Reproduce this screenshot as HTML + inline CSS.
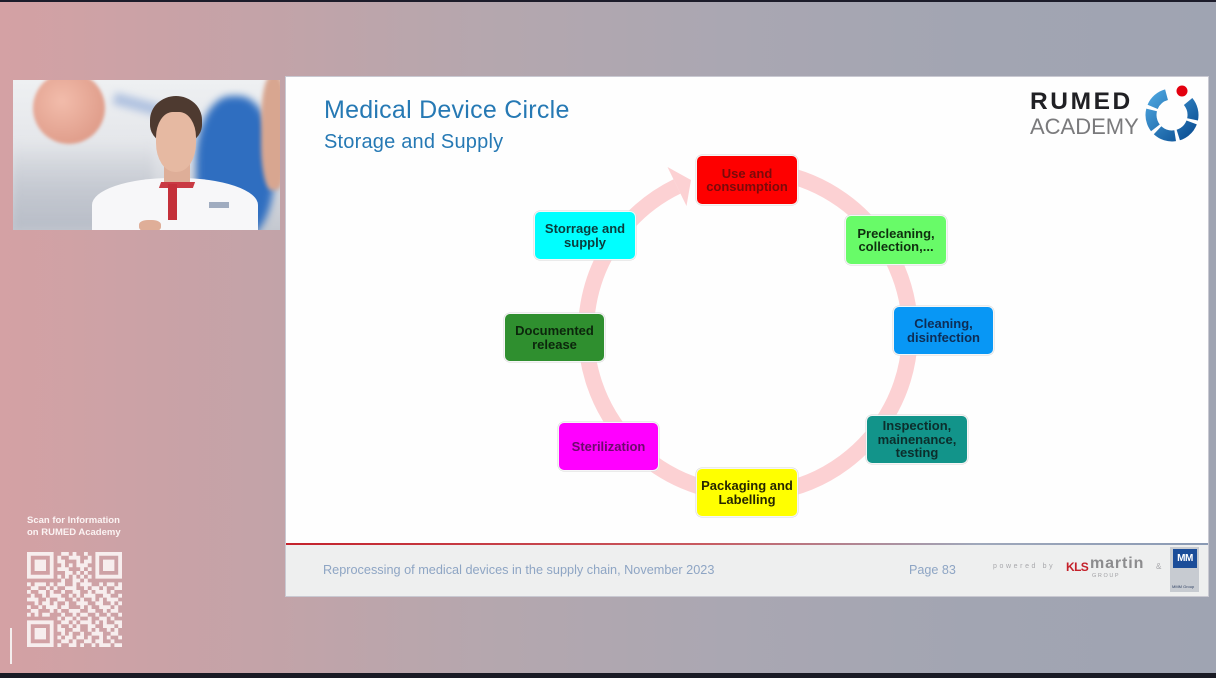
<!DOCTYPE html>
<html>
<head>
<meta charset="utf-8">
<style>
  html,body{margin:0;padding:0;}
  body{width:1216px;height:678px;position:relative;overflow:hidden;
    background:linear-gradient(90deg,#d4a1a4 0%,#c3a3a8 22%,#b5a7ae 40%,#aaa7b2 60%,#a2a5b2 80%,#9fa4b2 100%);
    font-family:"Liberation Sans",Arial,sans-serif;}
  .abs{position:absolute;}
  .topbar{left:0;top:0;width:1216px;height:2px;background:#1c1c2a;}
  .botbar{left:0;top:673px;width:1216px;height:5px;background:#191a24;}
  .cam{left:13px;top:80px;width:267px;height:150px;overflow:hidden;
    background:linear-gradient(180deg,#eef0f2 0%,#e4e6ea 45%,#c4c8d0 100%);}
  .cam div{position:absolute;}
  .slide{left:286px;top:77px;width:922px;height:519px;background:#fefefe;box-shadow:0 0 0 1px #c9c9d2;}
  .footer{left:286px;top:545px;width:922px;height:51px;background:#eeefef;}
  .fline{left:286px;top:543px;width:922px;height:2px;background:linear-gradient(90deg,#c4222c 0%,#c85a60 45%,#9fa8bb 75%,#8a9ab4 100%);}
  .node{position:absolute;box-sizing:border-box;border:1.5px solid #f6f6f6;border-radius:6px;
    display:flex;align-items:center;justify-content:center;text-align:center;
    font-weight:bold;font-size:13px;line-height:13.5px;box-shadow:0 0 0 0.5px #d8d8d8;}
</style>
</head>
<body>
<div class="abs topbar"></div>

<!-- webcam -->
<div class="abs cam">
  <div style="left:0;top:60px;width:140px;height:90px;background:linear-gradient(180deg,rgba(200,205,212,0) 0%,#b9bec8 100%);filter:blur(4px);"></div>
  <div style="left:20px;top:-8px;width:72px;height:72px;border-radius:50%;background:radial-gradient(circle at 40% 40%,#f2bcab,#d9927f);filter:blur(1.5px);"></div>
  <div style="left:100px;top:20px;width:60px;height:12px;background:#8aa6d6;filter:blur(4px);opacity:.6;transform:rotate(15deg);"></div>
  <div style="left:183px;top:16px;width:78px;height:145px;border-radius:45%;background:#2f6ec0;filter:blur(4px);"></div>
  <div style="left:248px;top:-5px;width:26px;height:115px;border-radius:40%;background:#d8a690;filter:blur(2px);"></div>
  <div style="left:79px;top:98px;width:166px;height:60px;background:#f7f7f9;border-radius:48% 48% 0 0 / 45% 45% 0 0;"></div>
  <div style="left:151px;top:84px;width:26px;height:22px;background:#deae98;"></div>
  <div style="left:137px;top:16px;width:52px;height:48px;background:#4e3a30;border-radius:50% 50% 40% 40%;"></div>
  <div style="left:143px;top:32px;width:40px;height:60px;background:#e6b9a2;border-radius:42% 42% 48% 48%;"></div>
  <div style="left:147px;top:102px;width:34px;height:6px;background:#c93a44;transform:skewX(-20deg);"></div>
  <div style="left:155px;top:104px;width:9px;height:36px;background:#c4303a;"></div>
  <div style="left:126px;top:140px;width:22px;height:12px;background:#dfae98;border-radius:40%;"></div>
  <div style="left:196px;top:122px;width:20px;height:6px;background:#7a8ca8;opacity:.7;"></div>
</div>

<!-- slide -->
<div class="abs slide"></div>
<div class="abs footer"></div>
<div class="abs fline"></div>

<div class="abs" style="left:324px;top:97.5px;font-size:25px;line-height:25px;letter-spacing:0.25px;color:#2679b4;white-space:nowrap;">Medical Device Circle</div>
<div class="abs" style="left:324px;top:131.8px;font-size:20px;line-height:20px;letter-spacing:0.2px;color:#2679b4;white-space:nowrap;">Storage and Supply</div>

<!-- RUMED logo -->
<div class="abs" style="left:1030px;top:90px;font-size:24.5px;line-height:24px;font-weight:bold;letter-spacing:2.6px;color:#202024;white-space:nowrap;">RUMED</div>
<div class="abs" style="left:1030px;top:116px;font-size:22px;line-height:21px;color:#7a7a7c;white-space:nowrap;">ACADEMY</div>
<svg class="abs" style="left:0;top:0;" width="1216" height="678" viewBox="0 0 1216 678">
  <defs>
    <linearGradient id="lg" x1="0" y1="0" x2="1" y2="1">
      <stop offset="0" stop-color="#4aa2dc"/>
      <stop offset="1" stop-color="#0b4f94"/>
    </linearGradient>
  </defs>
  <path d="M1188.1 101.5 A21 21 0 1 1 1168.4 94.3" fill="none" stroke="url(#lg)" stroke-width="11" stroke-dasharray="19 3.2"/>
  <circle cx="1182" cy="91" r="5.5" fill="#e3000f"/>

  <!-- ring -->
  <path d="M776.1 172.5 A162 162 0 1 1 677.0 186.4" fill="none" stroke="#fcd1d3" stroke-width="16"/>
  <polygon points="667.5,167 686.5,206 691,180" fill="#fcd1d3"/>
</svg>

<!-- nodes -->
<div class="node" style="left:696px;top:155px;width:102px;height:50px;background:#fe0000;color:#7a0a0a;">Use and<br>consumption</div>
<div class="node" style="left:845px;top:215px;width:102px;height:50px;background:#68fb68;color:#0f2f0f;">Precleaning,<br>collection,...</div>
<div class="node" style="left:893px;top:306px;width:101px;height:49px;background:#0897f5;color:#0e2d55;">Cleaning,<br>disinfection</div>
<div class="node" style="left:866px;top:415px;width:102px;height:49px;background:#12948a;color:#0c2e2c;">Inspection,<br>mainenance,<br>testing</div>
<div class="node" style="left:696px;top:468px;width:102px;height:49px;background:#ffff00;color:#262600;">Packaging and<br>Labelling</div>
<div class="node" style="left:558px;top:422px;width:101px;height:49px;background:#ff00ff;color:#6d0a6d;">Sterilization</div>
<div class="node" style="left:504px;top:313px;width:101px;height:49px;background:#2f8f2f;color:#0c260c;">Documented<br>release</div>
<div class="node" style="left:534px;top:211px;width:102px;height:49px;background:#00ffff;color:#0a3c3c;">Storrage and<br>supply</div>

<!-- footer -->
<div class="abs" style="left:323px;top:563px;font-size:12.7px;line-height:14px;color:#8ea5c4;white-space:nowrap;">Reprocessing of medical devices in the supply chain, November 2023</div>
<div class="abs" style="left:909px;top:563px;font-size:12.6px;line-height:14px;color:#8ea5c4;white-space:nowrap;">Page 83</div>
<div class="abs" style="left:993px;top:562px;font-size:7px;line-height:9px;letter-spacing:2.6px;color:#a8a8ac;white-space:nowrap;">powered by</div>
<div class="abs" style="left:1066px;top:560px;font-size:12px;line-height:14px;font-weight:bold;letter-spacing:-0.6px;color:#c4202a;white-space:nowrap;">KLS</div>
<div class="abs" style="left:1090px;top:556px;font-size:16px;line-height:16px;font-weight:bold;letter-spacing:0.9px;color:#8c8c8e;white-space:nowrap;">martin</div>
<div class="abs" style="left:1092px;top:573px;font-size:5.5px;line-height:6px;letter-spacing:1.6px;color:#a0a0a4;white-space:nowrap;">GROUP</div>
<div class="abs" style="left:1156px;top:562px;font-size:8px;line-height:9px;color:#a8a8ac;">&amp;</div>
<div class="abs" style="left:1170px;top:547px;width:29px;height:45px;background:#c7cbd1;"></div>
<div class="abs" style="left:1173px;top:549px;width:24px;height:19px;background:#1b4d99;color:#fff;font-size:10px;font-weight:bold;line-height:19px;text-align:center;letter-spacing:-0.5px;">MM</div>
<div class="abs" style="left:1172px;top:584px;font-size:4px;line-height:5px;color:#334466;white-space:nowrap;">MMM Group</div>

<!-- left column: QR -->
<div class="abs" style="left:27px;top:515px;font-size:9.5px;line-height:11.5px;font-weight:bold;color:#fbf3f3;white-space:nowrap;">Scan for Information<br>on RUMED Academy</div>
<svg class="abs" style="left:27px;top:552px;" width="95" height="95" viewBox="0 0 25 25">
  <g fill="#f7eeee">
    <path fill-rule="evenodd" d="M0 0h7v7h-7z M1 1v5h5v-5z M2 2h3v3h-3z"/>
    <path fill-rule="evenodd" d="M18 0h7v7h-7z M19 1v5h5v-5z M20 2h3v3h-3z"/>
    <path fill-rule="evenodd" d="M0 18h7v7h-7z M1 19v5h5v-5z M2 20h3v3h-3z"/>
    <path d="M9 0h2v1h-2z M12 0h1v1h-1z M15 0h1v1h-1z
M8 1h1v1h-1z M11 1h3v1h-3z M16 1h1v1h-1z
M8 2h2v1h-2z M13 2h1v1h-1z M15 2h2v1h-2z
M9 3h1v1h-1z M11 3h1v1h-1z M13 3h3v1h-3z
M8 4h3v1h-3z M14 4h1v1h-1z M16 4h1v1h-1z
M10 5h2v1h-2z M13 5h1v1h-1z M15 5h1v1h-1z
M8 6h1v1h-1z M10 6h1v1h-1z M12 6h1v1h-1z M14 6h1v1h-1z M16 6h1v1h-1z
M9 7h1v1h-1z M12 7h2v1h-2z M15 7h1v1h-1z
M0 8h1v1h-1z M2 8h3v1h-3z M6 8h1v1h-1z M8 8h2v1h-2z M12 8h1v1h-1z M14 8h3v1h-3z M19 8h1v1h-1z M21 8h2v1h-2z M24 8h1v1h-1z
M1 9h2v1h-2z M5 9h1v1h-1z M7 9h1v1h-1z M10 9h3v1h-3z M15 9h1v1h-1z M17 9h2v1h-2z M20 9h1v1h-1z M23 9h2v1h-2z
M0 10h1v1h-1z M3 10h2v1h-2z M6 10h1v1h-1z M9 10h1v1h-1z M12 10h2v1h-2z M16 10h1v1h-1z M18 10h3v1h-3z M22 10h1v1h-1z
M1 11h1v1h-1z M4 11h1v1h-1z M6 11h3v1h-3z M11 11h1v1h-1z M13 11h1v1h-1z M15 11h3v1h-3z M20 11h2v1h-2z M24 11h1v1h-1z
M0 12h3v1h-3z M5 12h1v1h-1z M8 12h2v1h-2z M12 12h1v1h-1z M14 12h1v1h-1z M17 12h1v1h-1z M19 12h1v1h-1z M21 12h3v1h-3z
M2 13h1v1h-1z M4 13h2v1h-2z M7 13h1v1h-1z M10 13h1v1h-1z M13 13h3v1h-3z M18 13h2v1h-2z M22 13h1v1h-1z M24 13h1v1h-1z
M0 14h1v1h-1z M3 14h1v1h-1z M5 14h3v1h-3z M9 14h2v1h-2z M14 14h1v1h-1z M16 14h1v1h-1z M19 14h3v1h-3z M23 14h1v1h-1z
M1 15h2v1h-2z M6 15h1v1h-1z M8 15h1v1h-1z M11 15h3v1h-3z M16 15h2v1h-2z M20 15h1v1h-1z M22 15h2v1h-2z
M0 16h1v1h-1z M2 16h1v1h-1z M4 16h2v1h-2z M9 16h1v1h-1z M12 16h1v1h-1z M14 16h2v1h-2z M18 16h1v1h-1z M21 16h1v1h-1z M24 16h1v1h-1z
M8 17h1v1h-1z M10 17h2v1h-2z M13 17h1v1h-1z M16 17h1v1h-1z M19 17h2v1h-2z M22 17h1v1h-1z
M9 18h2v1h-2z M12 18h1v1h-1z M14 18h3v1h-3z M18 18h1v1h-1z M20 18h1v1h-1z M23 18h2v1h-2z
M8 19h1v1h-1z M11 19h1v1h-1z M13 19h1v1h-1z M16 19h2v1h-2z M20 19h3v1h-3z M24 19h1v1h-1z
M8 20h2v1h-2z M12 20h2v1h-2z M16 20h1v1h-1z M18 20h1v1h-1z M21 20h1v1h-1z M23 20h1v1h-1z
M9 21h1v1h-1z M11 21h1v1h-1z M14 21h1v1h-1z M17 21h3v1h-3z M22 21h2v1h-2z
M8 22h1v1h-1z M10 22h2v1h-2z M13 22h2v1h-2z M16 22h1v1h-1z M19 22h1v1h-1z M21 22h1v1h-1z M24 22h1v1h-1z
M9 23h2v1h-2z M12 23h1v1h-1z M15 23h2v1h-2z M18 23h2v1h-2z M22 23h1v1h-1z
M8 24h1v1h-1z M11 24h2v1h-2z M14 24h1v1h-1z M17 24h1v1h-1z M19 24h3v1h-3z M23 24h2v1h-2z"/>
  </g>
</svg>
<div class="abs" style="left:10px;top:628px;width:1.5px;height:36px;background:#f4eeee;"></div>

<div class="abs botbar"></div>
</body>
</html>
